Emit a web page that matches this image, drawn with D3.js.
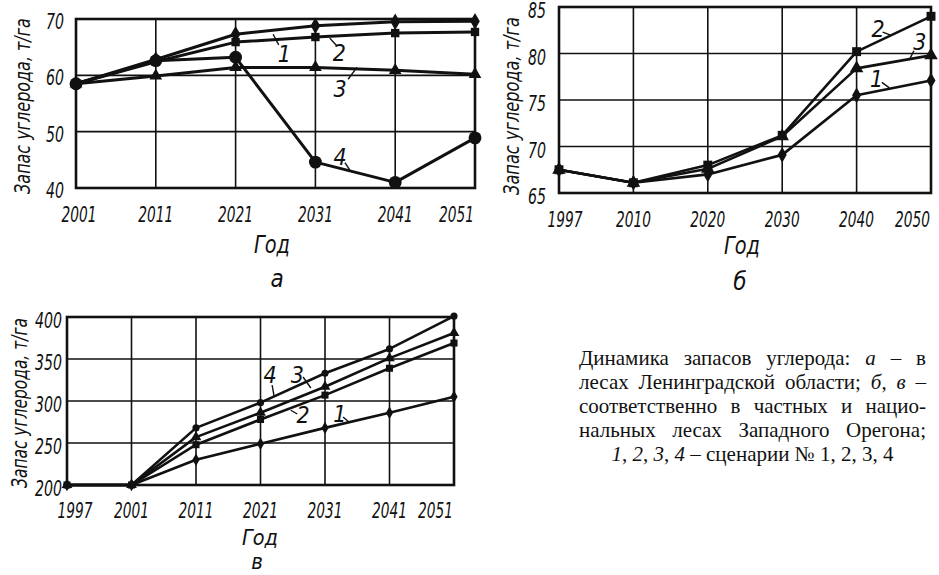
<!DOCTYPE html>
<html>
<head>
<meta charset="utf-8">
<script src="https://cdn.jsdelivr.net/npm/d3@7"></script>
<style>
  html, body { margin: 0; padding: 0; background: #fff; }
  svg { display: block; }
  .draft { font-family: "Liberation Sans Narrow", "DejaVu Sans Condensed", "Liberation Sans", sans-serif; font-style: italic; fill: #111; }
  .cap { font-family: "Liberation Serif", "Times New Roman", serif; fill: #111; }
</style>
</head>
<body>
<svg id="chart" width="939" height="575"></svg>
<script>
// ---------------- DATA ----------------
// Panel а — Leningrad region
const yearsA = ["2001", "2011", "2021", "2031", "2041", "2051"];
const a1 = [58.5, 62.8, 67.3, 68.8, 69.5, 69.6];
const a2 = [58.5, 62.4, 65.9, 66.8, 67.5, 67.7];
const a3 = [58.5, 59.9, 61.4, 61.4, 60.9, 60.2];
const a4 = [58.5, 62.6, 63.2, 44.6, 41.0, 48.9];
const ticksA = [40, 50, 60, 70];

// Panel б — private forests, Western Oregon
const yearsB = ["1997", "2010", "2020", "2030", "2040", "2050"];
const b1 = [67.5, 66.1, 67.0, 69.1, 75.5, 77.1];
const b2 = [67.5, 66.1, 68.0, 71.2, 80.2, 84.0];
const b3 = [67.5, 66.1, 67.6, 71.1, 78.4, 79.8];
const ticksB = [65, 70, 75, 80, 85];

// Panel в — national forests, Western Oregon
const yearsC = ["1997", "2001", "2011", "2021", "2031", "2041", "2051"];
const c1 = [200, 200, 230, 249, 268, 286, 305];
const c2 = [200, 200, 248, 278, 307, 339, 369];
const c3 = [200, 200, 257, 286, 317, 351, 381];
const c4 = [200, 200, 268, 298, 333, 362, 401];
const ticksC = [200, 250, 300, 350, 400];

const yTitle = "Запас углерода, т/га";
const xTitle = "Год";

// ---------------- LAYOUT ----------------
const svg = d3.select("#chart");
const FONT_D = "draft";

function panel(cfg) {
  const g = svg.append("g");
  const x = d3.scalePoint().domain(cfg.years).range([cfg.left, cfg.right]).padding(0);
  const y = d3.scaleLinear().domain(cfg.domain).range([cfg.bottom, cfg.top]);
  const step = x.step();
  const xi = f => cfg.left + f * step;

  // grid
  g.append("g").selectAll("line").data(cfg.ticks.slice(1, -1)).join("line")
    .attr("x1", cfg.left).attr("x2", cfg.right)
    .attr("y1", d => y(d)).attr("y2", d => y(d))
    .attr("stroke", "#111").attr("stroke-width", 1.6);
  g.append("g").selectAll("line").data(cfg.years.slice(1, -1)).join("line")
    .attr("x1", d => x(d)).attr("x2", d => x(d))
    .attr("y1", cfg.top).attr("y2", cfg.bottom)
    .attr("stroke", "#111").attr("stroke-width", 1.6);
  g.append("rect")
    .attr("x", cfg.left).attr("y", cfg.top)
    .attr("width", cfg.right - cfg.left).attr("height", cfg.bottom - cfg.top)
    .attr("fill", "none").attr("stroke", "#111").attr("stroke-width", 2.6);

  // y tick labels
  g.append("g").selectAll("text").data(cfg.ticks).join("text")
    .attr("class", FONT_D)
    .attr("x", cfg.left - cfg.yTickGap).attr("y", d => y(d) + cfg.yTickDy)
    .attr("text-anchor", "end").attr("dominant-baseline", "middle")
    .attr("font-size", 21)
    .attr("textLength", d => String(d).length * 9).attr("lengthAdjust", "spacingAndGlyphs")
    .text(d => d);

  // x tick labels (condensed with a horizontal scale)
  const last = cfg.years.length - 1;
  g.append("g").selectAll("text").data(cfg.years).join("text")
    .attr("class", FONT_D)
    .attr("text-anchor", (d, i) => i === last ? "end" : "middle")
    .attr("font-size", 21)
    .text(d => d)
    .each(function (d, i) {
      const w = this.getComputedTextLength();
      const px = i === last ? cfg.right - 1 : x(d) + (i === 0 ? cfg.firstShift : 0);
      d3.select(this).attr("transform", `translate(${px},${cfg.bottom + cfg.xTickDy}) scale(${35 / w},1)`);
    });

  // y title (condensed horizontally to the reference length)
  const yt = g.append("text").attr("class", FONT_D)
    .attr("text-anchor", "middle").attr("font-size", 21)
    .text(yTitle);
  const nat = yt.node().getComputedTextLength();
  yt.attr("transform", `translate(${cfg.yTitleX},${cfg.yTitleY}) rotate(-90) scale(${cfg.yTitleLen / nat},1)`);

  // x title + panel letter
  const xt = g.append("text").attr("class", FONT_D)
    .attr("text-anchor", "middle").attr("font-size", cfg.xTitleSize)
    .text(xTitle);
  const natX = xt.node().getComputedTextLength();
  xt.attr("transform", `translate(${cfg.xTitleX},${cfg.xTitleY}) scale(${36 / natX},1)`);
  g.append("text").attr("class", FONT_D)
    .attr("x", cfg.letterX).attr("y", cfg.letterY)
    .attr("text-anchor", "middle").attr("font-size", cfg.letterSize)
    .text(cfg.letter);

  // series
  const line = d3.line().x((d, i) => x(cfg.years[i])).y(d => y(d));
  cfg.series.forEach(s => {
    g.append("path").datum(s.values)
      .attr("d", line).attr("fill", "none")
      .attr("stroke", "#111").attr("stroke-width", cfg.lineW)
      .attr("stroke-linejoin", "round");
  });
  cfg.series.forEach(s => {
    const sym = d3.symbol().type(s.shape).size(s.size);
    g.append("g").selectAll("path").data(s.values).join("path")
      .attr("transform", (d, i) => `translate(${x(cfg.years[i])},${y(d)})`)
      .attr("d", sym).attr("fill", "#111");
  });

  // series labels with leader strokes
  cfg.labels.forEach(l => {
    g.append("line")
      .attr("x1", xi(l.l1[0])).attr("y1", y(l.l1[1]))
      .attr("x2", xi(l.l2[0])).attr("y2", y(l.l2[1]))
      .attr("stroke", "#111").attr("stroke-width", 1.4);
    g.append("text").attr("class", FONT_D)
      .attr("x", xi(l.at[0])).attr("y", y(l.at[1]))
      .attr("text-anchor", "middle").attr("font-size", 23)
      .text(l.t);
  });
}

const diamond = d3.symbolDiamond, square = d3.symbolSquare, tri = d3.symbolTriangle, circ = d3.symbolCircle;

panel({
  years: yearsA, domain: [40, 70], ticks: ticksA,
  left: 76, right: 475, top: 19, bottom: 188,
  yTickGap: 12, yTickDy: 4, xTickDy: 34, firstShift: 3,
  yTitleX: 30, yTitleY: 106, yTitleLen: 176,
  xTitleX: 272, xTitleY: 253, xTitleSize: 24,
  letter: "а", letterX: 277, letterY: 287, letterSize: 24,
  lineW: 3,
  series: [
    { values: a1, shape: diamond, size: 80 },
    { values: a2, shape: square, size: 70 },
    { values: a3, shape: tri, size: 70 },
    { values: a4, shape: circ, size: 130 }
  ],
  labels: [
    { t: "1", at: [2.61, 62.3], l1: [2.47, 67.3], l2: [2.54, 65.4] },
    { t: "2", at: [3.3, 62.5], l1: [3.18, 66.6], l2: [3.27, 65.2] },
    { t: "3", at: [3.31, 56.2], l1: [3.52, 61.4], l2: [3.41, 59.3] },
    { t: "4", at: [3.31, 44.1], l1: [3.37, 44.5], l2: [3.43, 43.2] }
  ]
});

panel({
  years: yearsB, domain: [65, 85], ticks: ticksB,
  left: 559, right: 931, top: 7, bottom: 193,
  yTickGap: 13, yTickDy: 5, xTickDy: 34, firstShift: 6,
  yTitleX: 519, yTitleY: 106, yTitleLen: 178,
  xTitleX: 742, xTitleY: 254, xTitleSize: 24,
  letter: "б", letterX: 740, letterY: 290, letterSize: 24,
  lineW: 2.6,
  series: [
    { values: b1, shape: diamond, size: 70 },
    { values: b2, shape: square, size: 80 },
    { values: b3, shape: tri, size: 80 }
  ],
  labels: [
    { t: "2", at: [4.29, 81.8], l1: [4.35, 82.3], l2: [4.45, 82.0] },
    { t: "3", at: [4.85, 80.4], l1: [4.72, 79.5], l2: [4.77, 80.3] },
    { t: "1", at: [4.27, 76.4], l1: [4.34, 76.9], l2: [4.44, 76.3] }
  ]
});

panel({
  years: yearsC, domain: [200, 400], ticks: ticksC,
  left: 67, right: 454, top: 317, bottom: 485,
  yTickGap: 5, yTickDy: 5, xTickDy: 33, firstShift: 8,
  yTitleX: 27, yTitleY: 403, yTitleLen: 170,
  xTitleX: 260, xTitleY: 545, xTitleSize: 22,
  letter: "в", letterX: 257, letterY: 569, letterSize: 22,
  lineW: 2.6,
  series: [
    { values: c1, shape: diamond, size: 45 },
    { values: c2, shape: square, size: 50 },
    { values: c3, shape: tri, size: 50 },
    { values: c4, shape: circ, size: 40 }
  ],
  labels: [
    { t: "4", at: [3.15, 321], l1: [3.18, 319], l2: [3.21, 306] },
    { t: "3", at: [3.57, 321], l1: [3.66, 328.6], l2: [3.78, 315.5] },
    { t: "2", at: [3.66, 274], l1: [3.47, 289], l2: [3.57, 284.5] },
    { t: "1", at: [4.23, 275], l1: [4.28, 281], l2: [4.37, 275] }
  ]
});

// ---------------- CAPTION ----------------
const captionLines = [
  [["Динамика запасов углерода: ", 0], ["а", 1], [" – в", 0]],
  [["лесах Ленинградской области; ", 0], ["б", 1], [", ", 0], ["в", 1], [" –", 0]],
  [["соответственно в частных и нацио-", 0]],
  [["нальных лесах Западного Орегона;", 0]],
  [["1", 1], [", ", 0], ["2", 1], [", ", 0], ["3", 1], [", ", 0], ["4", 1], [" – сценарии № 1, 2, 3, 4", 0]]
];
const capLeft = 579, capRight = 926, capTop = 365, capLead = 24;
captionLines.forEach((segs, li) => {
  const t = svg.append("text").attr("class", "cap")
    .attr("font-size", 21).attr("y", capTop + li * capLead)
    .attr("xml:space", "preserve");
  segs.forEach(s => t.append("tspan").attr("font-style", s[1] ? "italic" : "normal").text(s[0]));
  const natural = t.node().getComputedTextLength();
  if (li < captionLines.length - 1) {
    const spaces = segs.map(s => s[0]).join("").split(" ").length - 1;
    const ws = Math.max(0, (capRight - capLeft - natural) / spaces);
    t.attr("x", capLeft).style("word-spacing", ws + "px");
  } else {
    t.attr("x", (capLeft + capRight) / 2).attr("text-anchor", "middle");
  }
});
</script>
</body>
</html>
